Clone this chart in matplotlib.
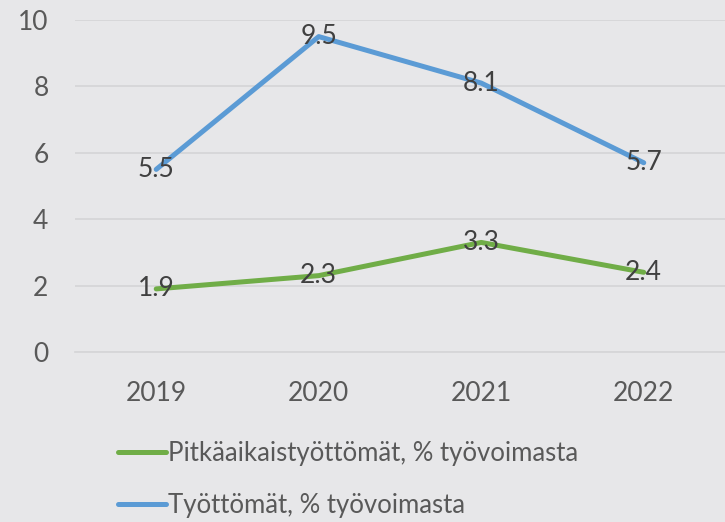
import matplotlib.pyplot as plt

years = ["2019", "2020", "2021", "2022"]
long_term = [1.9, 2.3, 3.3, 2.4]
unemployed = [5.5, 9.5, 8.1, 5.7]
series_names = ["Pitkäaikaistyöttömät, % työvoimasta", "Työttömät, % työvoimasta"]

BG = "#E7E7E9"
GREEN = "#70AD47"
BLUE = "#5B9BD5"

plt.rcParams['font.family'] = ['Lato', 'DejaVu Sans']

fig = plt.figure(figsize=(7.25, 5.22), dpi=100, facecolor=BG)
ax = fig.add_axes([0.1034, 0.3257, 0.8966, 0.636])
ax.set_facecolor(BG)

x = list(range(len(years)))
ax.plot(x, long_term, color=GREEN, linewidth=3.6, solid_capstyle='round', label=series_names[0])
ax.plot(x, unemployed, color=BLUE, linewidth=3.6, solid_capstyle='round', label=series_names[1])

# data labels sit right on the points
for xi, v in zip(x, long_term):
    ax.text(xi, v, f"{v:.1f}", ha='center', va='center', fontsize=19, color='#404040')
for xi, v in zip(x, unemployed):
    ax.text(xi, v, f"{v:.1f}", ha='center', va='center', fontsize=19, color='#404040')

ax.set_xlim(-0.5, 3.5)
ax.set_ylim(0, 10)
ax.set_yticks([0, 2, 4, 6, 8, 10])
ax.set_xticks(x)
ax.set_xticklabels(years)
ax.tick_params(axis='both', length=0, labelsize=19, colors='#595959')
ax.tick_params(axis='x', pad=21)
ax.tick_params(axis='y', pad=19)
ax.grid(axis='y', color='#D6D6D8', linewidth=1.3)
ax.set_axisbelow(True)
for s in ax.spines.values():
    s.set_visible(False)
ax.spines['bottom'].set_visible(True)
ax.spines['bottom'].set_color('#D6D6D8')
ax.spines['bottom'].set_linewidth(1.3)

leg = fig.legend(loc='upper left', bbox_to_anchor=(0.148, 0.175), frameon=False,
                 fontsize=18.5, handlelength=1.9, handletextpad=0.05, labelspacing=1.05,
                 borderaxespad=0)
for t in leg.get_texts():
    t.set_color('#595959')

fig.savefig("out.png", dpi=100, facecolor=BG)
